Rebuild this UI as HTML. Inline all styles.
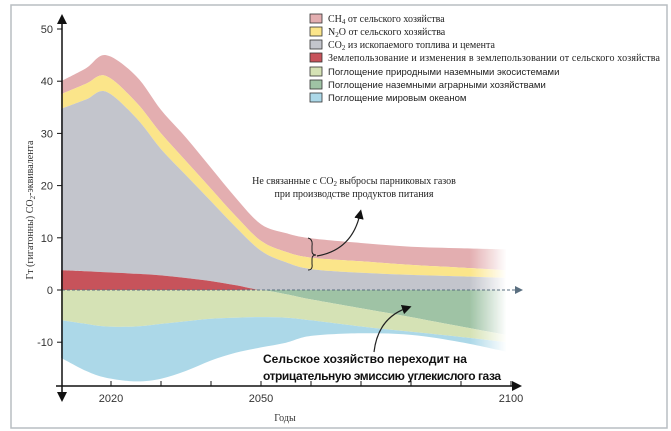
<!DOCTYPE html>
<html><head><meta charset="utf-8"><style>
html,body{margin:0;padding:0;background:#fff;}
svg{display:block;}
.ser{font-family:"Liberation Serif",serif;}
.san{font-family:"Liberation Sans","DejaVu Sans",sans-serif;}
</style></head><body>
<svg id="chart" width="671" height="431" viewBox="0 0 671 431">
<defs>
<linearGradient id="fadeG" gradientUnits="userSpaceOnUse" x1="0" y1="0" x2="671" y2="0">
<stop offset="0" stop-color="#fff"/>
<stop offset="0.700" stop-color="#fff"/>
<stop offset="0.755" stop-color="#000"/>
<stop offset="1" stop-color="#000"/>
</linearGradient>
<mask id="fadeM" maskUnits="userSpaceOnUse" x="0" y="0" width="671" height="431"><rect x="0" y="0" width="671" height="431" fill="url(#fadeG)"/></mask>
<marker id="ah" markerWidth="8" markerHeight="8" refX="4" refY="4" orient="auto"><path d="M0,0 L8,4 L0,8 z" fill="#111"/></marker>
</defs>
<rect x="11" y="5" width="656" height="423" fill="#fff" stroke="#b9bec2" stroke-width="1.5"/>
<g id="areas" mask="url(#fadeM)"></g>
<g id="axes"></g>
<g>
<g><rect x="310" y="14" width="12" height="9" fill="#e3aeb0" stroke="#333" stroke-width="0.8"/><text x="328" y="22" class="ser" font-size="10" fill="#222">CH<tspan font-size="7" dy="2">4</tspan><tspan dy="-2"> от сельского хозяйства</tspan></text></g>
<g><rect x="310" y="27" width="12" height="9" fill="#fbe58a" stroke="#333" stroke-width="0.8"/><text x="328" y="35" class="ser" font-size="10" fill="#222">N<tspan font-size="7" dy="2">2</tspan><tspan dy="-2">O от сельского хозяйства</tspan></text></g>
<g><rect x="310" y="40" width="12" height="9" fill="#c3c5cc" stroke="#333" stroke-width="0.8"/><text x="328" y="48" class="ser" font-size="10" fill="#222">CO<tspan font-size="7" dy="2">2</tspan><tspan dy="-2"> из ископаемого топлива и цемента</tspan></text></g>
<g><rect x="310" y="53" width="12" height="9" fill="#c7535b" stroke="#333" stroke-width="0.8"/><text x="328" y="61" class="ser" font-size="10" fill="#222" textLength="332">Землепользование и изменения в землепользовании от сельского хозяйства</text></g>
<g><rect x="310" y="67" width="12" height="9" fill="#d5e2b5" stroke="#333" stroke-width="0.8"/><text x="328" y="75" class="san" font-size="9.5" fill="#222">Поглощение природными наземными экосистемами</text></g>
<g><rect x="310" y="80" width="12" height="9" fill="#9fc3a5" stroke="#333" stroke-width="0.8"/><text x="328" y="88" class="san" font-size="9.5" fill="#222">Поглощение наземными аграрными хозяйствами</text></g>
<g><rect x="310" y="93" width="12" height="9" fill="#acd8e8" stroke="#333" stroke-width="0.8"/><text x="328" y="101" class="san" font-size="9.5" fill="#222">Поглощение мировым океаном</text></g>
</g>
<g>
<text x="354" y="184" text-anchor="middle" class="ser" font-size="10" fill="#222">Не связанные с CO<tspan font-size="7" dy="2">2</tspan><tspan dy="-2"> выбросы парниковых газов</tspan></text>
<text x="354" y="197" text-anchor="middle" class="ser" font-size="10" fill="#222">при производстве продуктов питания</text>
<path d="M308,238 Q313,239 312,246 L312,251 Q312,255 316,255 Q312,255 312,259 L312,264 Q313,270 308,270" fill="none" stroke="#222" stroke-width="1"/>
<path d="M317,256 Q352,250 360,214" fill="none" stroke="#222" stroke-width="1.2" marker-end="url(#ah)"/>
</g>
<g>
<text x="263" y="363" class="san" font-size="12" font-weight="bold" fill="#111">Сельское хозяйство переходит на</text>
<text x="263" y="380" class="san" font-size="12" font-weight="bold" fill="#111" textLength="238">отрицательную эмиссию углекислого газа</text>
<path d="M374,352 Q378,318 407,308" fill="none" stroke="#222" stroke-width="1.2" marker-end="url(#ah)"/>
</g>
<text x="285" y="421" text-anchor="middle" class="ser" font-size="10" fill="#333">Годы</text>
<text transform="translate(33,210) rotate(-90)" text-anchor="middle" class="ser" font-size="10" fill="#333">Гт (гигатонны) CO<tspan font-size="7" dy="2">2</tspan><tspan dy="-2">-эквивалента</tspan></text>
</svg>
<script>
const years = [2010,2015,2019,2025,2030,2035,2040,2045,2050,2055,2060,2070,2080,2090,2099];
const landUse = [3.8,3.6,3.4,3.1,2.8,2.3,1.7,0.9,0,0,0,0,0,0,0];
const co2Fossil = [30.9,32.9,34.6,29.9,24.2,19.7,15.3,11.1,7.5,5.3,4,3.3,2.9,2.6,2.3];
const n2o = [2.8,3,3,3,3,2.7,2.4,2.1,1.9,2,2.2,2.2,1.9,1.7,1.5];
const ch4 = [2.5,3,4,5,4.5,4.5,4,3.5,3.2,3.6,3.7,3.5,3.5,3.7,4];
const agriSink = [0,0,0,0,0,0,0,0,0,-0.8,-1.8,-3.5,-5.2,-7,-8.6];
const naturalSink = [-5.8,-6.5,-7,-7,-6.5,-6,-5.5,-5.3,-5.2,-4.5,-4,-3.5,-2.8,-2,-1.4];
const oceanSink = [-7.2,-9,-9.8,-10.5,-10.5,-9.5,-8,-6.7,-5.8,-4.8,-3,-1.3,-0.6,-1,-1.8];
const yTicks = [50,40,30,20,10,0,-10];
const xLabels = [2020,2050,2100];
const xTicks = [2020,2030,2040,2050,2060,2070,2080,2090,2100];

const X = y => 111 + (y - 2020) * 5;
const Y = v => 290 - v * 5.22;
const NS = 'http://www.w3.org/2000/svg';
function mk(tag, attrs, parent){const e=document.createElementNS(NS,tag);for(const k in attrs)e.setAttribute(k,attrs[k]);parent.appendChild(e);return e;}
function spline(pts){
  let d='M'+pts[0][0].toFixed(1)+','+pts[0][1].toFixed(1);
  for(let i=0;i<pts.length-1;i++){
    const p0=pts[Math.max(i-1,0)],p1=pts[i],p2=pts[i+1],p3=pts[Math.min(i+2,pts.length-1)];
    const c1=[p1[0]+(p2[0]-p0[0])/6,p1[1]+(p2[1]-p0[1])/6];
    const c2=[p2[0]-(p3[0]-p1[0])/6,p2[1]-(p3[1]-p1[1])/6];
    d+=' C'+c1[0].toFixed(1)+','+c1[1].toFixed(1)+' '+c2[0].toFixed(1)+','+c2[1].toFixed(1)+' '+p2[0].toFixed(1)+','+p2[1].toFixed(1);
  }
  return d;
}
function band(lo, hi, color, name){
  const top = years.map((y,i)=>[X(y),Y(hi[i])]);
  const bot = years.map((y,i)=>[X(y),Y(lo[i])]).reverse();
  const d = spline(top)+' L'+spline(bot).slice(1)+' Z';
  const p = mk('path',{d:d,fill:color},document.getElementById('areas'));
  
  
}
const zero = years.map(()=>0);
const s1 = landUse.slice();
const s2 = s1.map((v,i)=>v+co2Fossil[i]);
const s3 = s2.map((v,i)=>v+n2o[i]);
const s4 = s3.map((v,i)=>v+ch4[i]);
const n1 = agriSink.slice();
const n2 = n1.map((v,i)=>v+naturalSink[i]);
const n3 = n2.map((v,i)=>v+oceanSink[i]);
band(s3,s4,'#e3aeb0','band-ch4');
band(s2,s3,'#fbe58a','band-n2o');
band(s1,s2,'#c3c5cc','band-co2-fossil');
band(zero,s1,'#c7535b','band-land-use');
band(n1,zero,'#9fc3a5','band-agri-sink');
band(n2,n1,'#d5e2b5','band-natural-sink');
band(n3,n2,'#acd8e8','band-ocean-sink');

const ax = document.getElementById('axes');
const zl = mk('line',{x1:62,y1:Y(0),x2:516,y2:Y(0),stroke:'#5a6f80','stroke-width':1,'stroke-dasharray':'3,2'},ax);


mk('path',{d:`M515,${Y(0)-4} L523,${Y(0)} L515,${Y(0)+4} Z`,fill:'#5a6f80'},ax);
const va = mk('line',{x1:62,y1:22,x2:62,y2:394,stroke:'#111','stroke-width':1.5},ax);


mk('path',{d:'M57,24 L62,14 L67,24 Z',fill:'#111'},ax);
mk('path',{d:'M57,392 L62,402 L67,392 Z',fill:'#111'},ax);
const ha = mk('line',{x1:56,y1:386,x2:514,y2:386,stroke:'#111','stroke-width':1.5},ax);


mk('path',{d:'M512,381 L522,386 L512,391 Z',fill:'#111'},ax);
yTicks.forEach(v=>{
  mk('line',{x1:57,y1:Y(v),x2:62,y2:Y(v),stroke:'#111','stroke-width':1},ax);
  const t = mk('text',{x:53,y:Y(v)+4,'text-anchor':'end','font-size':11,'class':'san',fill:'#333'},ax);
  t.textContent = v;
  
  
});
xTicks.forEach(y=>{
  mk('line',{x1:X(y),y1:381,x2:X(y),y2:386,stroke:'#111','stroke-width':1},ax);
});
xLabels.forEach(y=>{
  const t = mk('text',{x:X(y),y:402,'text-anchor':'middle','font-size':11,'class':'san',fill:'#333'},ax);
  t.textContent = y;
  
  
});
</script>
</body></html>
